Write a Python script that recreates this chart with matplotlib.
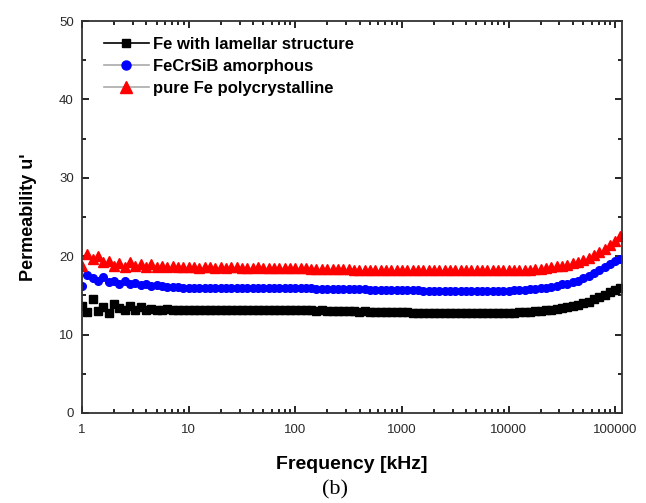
import matplotlib.pyplot as plt
import matplotlib.ticker as ticker
from matplotlib.lines import Line2D

# frequency sweep (kHz), 20 points per decade
freq = [1.00, 1.12, 1.26, 1.41, 1.58, 1.78, 2.00, 2.24, 2.51, 2.82,
        3.16, 3.55, 3.98, 4.47, 5.01, 5.62, 6.31, 7.08, 7.94, 8.91,
        10.0, 11.2, 12.6, 14.1, 15.8, 17.8, 20.0, 22.4, 25.1, 28.2,
        31.6, 35.5, 39.8, 44.7, 50.1, 56.2, 63.1, 70.8, 79.4, 89.1,
        100, 112, 126, 141, 158, 178, 200, 224, 251, 282,
        316, 355, 398, 447, 501, 562, 631, 708, 794, 891,
        1000, 1120, 1260, 1410, 1580, 1780, 2000, 2240, 2510, 2820,
        3160, 3550, 3980, 4470, 5010, 5620, 6310, 7080, 7940, 8910,
        10000, 11200, 12600, 14100, 15800, 17800, 20000, 22400, 25100, 28200,
        31600, 35500, 39800, 44700, 50100, 56200, 63100, 70800, 79400, 89100,
        100000, 112000]

fe_lamellar = [13.6, 12.9, 14.6, 13.0, 13.5, 12.8, 13.9, 13.4, 13.1, 13.6,
               13.2, 13.5, 13.1, 13.3, 13.2, 13.2, 13.3, 13.2, 13.2, 13.2,
               13.2, 13.2, 13.1, 13.2, 13.2, 13.2, 13.1, 13.2, 13.2, 13.2,
               13.1, 13.2, 13.2, 13.1, 13.2, 13.1, 13.1, 13.1, 13.1, 13.1,
               13.1, 13.1, 13.1, 13.1, 13.0, 13.1, 13.0, 13.0, 13.0, 13.0,
               13.0, 13.0, 12.9, 13.0, 12.9, 12.9, 12.9, 12.9, 12.9, 12.9,
               12.9, 12.9, 12.8, 12.8, 12.8, 12.8, 12.8, 12.8, 12.8, 12.8,
               12.8, 12.8, 12.8, 12.8, 12.8, 12.8, 12.8, 12.8, 12.8, 12.8,
               12.8, 12.8, 12.9, 12.9, 12.9, 13.0, 13.0, 13.1, 13.2, 13.3,
               13.4, 13.5, 13.7, 13.8, 14.0, 14.2, 14.5, 14.8, 15.1, 15.4,
               15.7, 16.0]

fecrsib = [16.2, 17.6, 17.2, 16.9, 17.3, 16.7, 16.8, 16.5, 16.9, 16.4,
           16.6, 16.3, 16.4, 16.2, 16.3, 16.2, 16.1, 16.1, 16.1, 16.0,
           16.0, 16.0, 16.0, 16.0, 16.0, 15.9, 16.0, 16.0, 15.9, 16.0,
           15.9, 15.9, 15.9, 15.9, 15.9, 15.9, 15.9, 15.9, 15.9, 15.9,
           15.9, 15.9, 15.9, 15.9, 15.8, 15.8, 15.8, 15.8, 15.8, 15.8,
           15.8, 15.8, 15.8, 15.8, 15.7, 15.7, 15.7, 15.7, 15.7, 15.7,
           15.7, 15.7, 15.7, 15.7, 15.6, 15.6, 15.6, 15.6, 15.6, 15.6,
           15.6, 15.6, 15.6, 15.6, 15.6, 15.6, 15.6, 15.6, 15.6, 15.6,
           15.6, 15.7, 15.7, 15.7, 15.8, 15.8, 15.9, 16.0, 16.1, 16.2,
           16.4, 16.5, 16.7, 16.9, 17.2, 17.5, 17.8, 18.2, 18.6, 19.0,
           19.4, 19.7]

pure_fe = [18.8, 20.3, 19.6, 20.0, 19.2, 19.4, 18.7, 19.1, 18.6, 19.3,
           18.7, 19.0, 18.6, 19.0, 18.6, 18.8, 18.6, 18.8, 18.6, 18.6,
           18.6, 18.6, 18.5, 18.6, 18.6, 18.5, 18.6, 18.5, 18.6, 18.6,
           18.5, 18.5, 18.5, 18.6, 18.5, 18.5, 18.5, 18.5, 18.5, 18.5,
           18.5, 18.5, 18.5, 18.4, 18.4, 18.4, 18.4, 18.4, 18.4, 18.4,
           18.4, 18.3, 18.3, 18.3, 18.3, 18.3, 18.3, 18.3, 18.3, 18.3,
           18.3, 18.3, 18.3, 18.2, 18.2, 18.2, 18.2, 18.2, 18.2, 18.2,
           18.2, 18.2, 18.2, 18.2, 18.2, 18.2, 18.2, 18.2, 18.2, 18.2,
           18.2, 18.2, 18.3, 18.3, 18.3, 18.4, 18.4, 18.5, 18.6, 18.7,
           18.8, 18.9, 19.1, 19.3, 19.5, 19.8, 20.1, 20.5, 20.9, 21.4,
           21.9, 22.6]

labels = ["Fe with lamellar structure", "FeCrSiB amorphous", "pure Fe polycrystalline"]

plt.rcParams['font.family'] = ['Liberation Sans', 'DejaVu Sans']

fig = plt.figure(figsize=(6.46, 5.03), dpi=100)
ax = fig.add_axes([0.127, 0.179, 0.836, 0.779])

ax.plot(freq, fe_lamellar, 's', color='black', markersize=5.5, linestyle='none')
ax.plot(freq, fecrsib, 'o', color='blue', markersize=5.5, linestyle='none')
ax.plot(freq, pure_fe, '^', color='red', markersize=6.5, linestyle='none')

ax.set_xscale('log')
ax.set_xlim(1, 116000)
ax.set_ylim(0, 50)
ax.xaxis.set_major_locator(ticker.LogLocator(base=10, numticks=10))
ax.xaxis.set_minor_locator(ticker.LogLocator(base=10, subs=range(2, 10), numticks=20))
ax.xaxis.set_major_formatter(ticker.FuncFormatter(lambda v, p: "%d" % v))
ax.xaxis.set_minor_formatter(ticker.NullFormatter())
ax.yaxis.set_major_locator(ticker.MultipleLocator(10))
ax.yaxis.set_minor_locator(ticker.MultipleLocator(5))

ax.tick_params(which='both', direction='in', top=True, right=True,
               labelsize=9.5, labelcolor='#2a2a2a', width=1.2)
ax.tick_params(which='major', length=5)
ax.tick_params(which='minor', length=3)
ax.tick_params(axis='x', pad=8)
ax.tick_params(axis='y', pad=6)
for s in ax.spines.values():
    s.set_linewidth(1.3)
    s.set_color('#333333')

ax.set_xlabel("Frequency [kHz]", fontsize=14, fontweight='bold', labelpad=14)
ax.set_ylabel("Permeability u'", fontsize=13, fontweight='bold', labelpad=16)

handles = [
    Line2D([], [], color='black', marker='s', markersize=6, lw=1.2),
    Line2D([], [], color='#aaaaaa', marker='o', markerfacecolor='blue',
           markeredgecolor='blue', markersize=6.5, lw=1.2),
    Line2D([], [], color='#aaaaaa', marker='^', markerfacecolor='red',
           markeredgecolor='red', markersize=8, lw=1.2),
]
leg = ax.legend(handles, labels, loc='upper left', bbox_to_anchor=(0.012, 0.997),
                frameon=False, handlelength=2.7, handletextpad=0.25,
                labelspacing=0.4, prop={'size': 12, 'weight': 'bold'})

fig.text(0.519, 0.026, "(b)", fontsize=16, family='Liberation Serif',
         ha='center', va='center')

fig.savefig("out.png", dpi=100)
